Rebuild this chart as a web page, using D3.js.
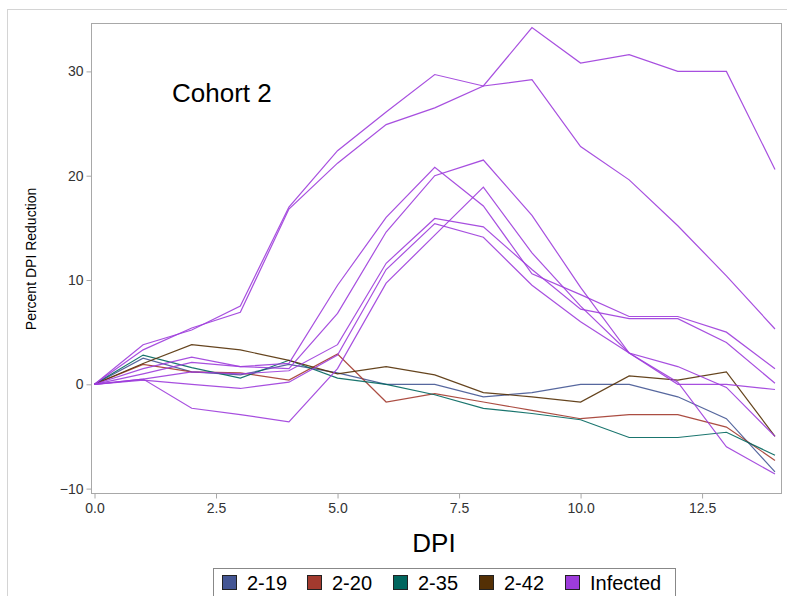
<!DOCTYPE html>
<html>
<head>
<meta charset="utf-8">
<script src="https://cdn.jsdelivr.net/npm/d3@7"></script>
<style>
  body { margin: 0; background: #fff; }
  text { font-family: "Liberation Sans", Arial, sans-serif; }
</style>
</head>
<body>
<svg id="chart"></svg>
<script>
const width  = 787
const height = 596

// DPI (days post infection)
const days = [0, 1, 2, 3, 4, 5, 6, 7, 8, 9, 10, 11, 12, 13, 14]

// control animals
const s219 = [0, 2.5, 1.2, 0.9, 1.9, 1.1, 0.0, 0.0, -1.2, -0.8, 0.0, 0.0, -1.2, -3.3, -8.4]
const s220 = [0, 1.9, 1.2, 1.1, 0.4, 2.9, -1.7, -0.9, -1.7, -2.5, -3.3, -2.9, -2.9, -4.1, -7.3]
const s235 = [0, 2.8, 1.6, 0.6, 2.3, 0.6, 0.0, -1.0, -2.3, -2.8, -3.4, -5.1, -5.1, -4.6, -6.8]
const s242 = [0, 2.0, 3.8, 3.3, 2.3, 1.0, 1.7, 0.9, -0.8, -1.2, -1.7, 0.8, 0.4, 1.2, -5.0]

// infected animals
const inf1 = [0, 3.8, 5.2, 7.5, 17.0, 22.4, 26.1, 29.7, 28.6, 29.2, 22.8, 19.6, 15.2, 10.4, 5.3]
const inf2 = [0, 3.3, 5.4, 6.9, 16.8, 21.2, 24.9, 26.5, 28.6, 34.2, 30.8, 31.6, 30.0, 30.0, 20.6]
const inf3 = [0, 1.5, 2.6, 1.7, 2.0, 9.5, 16.0, 20.8, 17.1, 10.6, 8.6, 6.5, 6.5, 5.0, 1.5]
const inf4 = [0, 1.0, 2.1, 1.7, 1.5, 6.8, 14.6, 20.0, 21.5, 16.2, 9.3, 3.0, 1.7, -0.3, -5.0]
const inf5 = [0, 0.5, -2.3, -2.9, -3.6, 1.5, 9.7, 14.3, 18.9, 12.6, 7.5, 3.0, 0.2, -6.0, -8.6]
const inf6 = [0, 0.5, 1.2, 1.0, 1.3, 3.8, 11.6, 15.9, 15.1, 11.0, 7.2, 6.3, 6.3, 4.0, 0.1]
const inf7 = [0, 0.4, 0.0, -0.4, 0.2, 2.8, 11.0, 15.4, 14.1, 9.5, 6.0, 3.0, 0.0, 0.0, -0.5]

const groups = ["2-19", "2-20", "2-35", "2-42", "Infected"]
const groupColors = ["#445694", "#A23A2E", "#01665E", "#543005", "#9D3CDB"]

const xTicks = [0, 2.5, 5, 7.5, 10, 12.5]
const yTicks = [-10, 0, 10, 20, 30]

const series = [
  { group: "2-19", values: s219 },
  { group: "2-20", values: s220 },
  { group: "2-35", values: s235 },
  { group: "2-42", values: s242 },
  { group: "Infected", values: inf1 },
  { group: "Infected", values: inf2 },
  { group: "Infected", values: inf3 },
  { group: "Infected", values: inf4 },
  { group: "Infected", values: inf5 },
  { group: "Infected", values: inf6 },
  { group: "Infected", values: inf7 }
]

const color = d3.scaleOrdinal().domain(groups).range(groupColors)

// plot frame
const frame = { left: 91, top: 23, right: 781, bottom: 493 }

const x = d3.scaleLinear().domain([0, 14]).range([94.5, 775])
const y = d3.scaleLinear().domain([-10, 30]).range([488.6, 71.4])

let svg = d3.select("#chart")
            .attr("width", width)
            .attr("height", height)

// outer border
svg.append("rect")
   .attr("x", 7.5).attr("y", 9.5)
   .attr("width", 800).attr("height", 600)
   .attr("fill", "none")
   .attr("stroke", "#d4d4d4")

// frame
svg.append("rect")
   .attr("x", frame.left + 0.5).attr("y", frame.top + 0.5)
   .attr("width", frame.right - frame.left)
   .attr("height", frame.bottom - frame.top)
   .attr("fill", "#fff")
   .attr("stroke", "#a8a8a8")

// axes
const xAxis = d3.axisBottom(x)
                .tickValues(xTicks)
                .tickFormat(d3.format(".1f"))
                .tickSizeOuter(0)
                .tickSize(5)
                .tickPadding(5)
const yAxis = d3.axisLeft(y)
                .tickValues(yTicks)
                .tickSizeOuter(0)
                .tickSize(5)
                .tickPadding(3)

const gx = svg.append("g")
   .attr("transform", `translate(0,${frame.bottom + 0.5})`)
   .call(xAxis)
const gy = svg.append("g")
   .attr("transform", `translate(${frame.left + 0.5},0)`)
   .call(yAxis)

;[gx, gy].forEach(g => {
  g.select(".domain").remove()
  g.selectAll(".tick line").attr("stroke", "#a8a8a8")
  g.selectAll(".tick text")
   .attr("fill", "#333")
   .style("font-size", "14px")
})

// lines
const line = d3.line()
               .x((d, i) => x(days[i]))
               .y(d => y(d))

svg.append("g")
   .selectAll("path")
   .data(series)
   .enter().append("path")
   .attr("d", d => line(d.values))
   .attr("fill", "none")
   .attr("stroke", d => color(d.group))
   .attr("stroke-width", 1.2)
   .attr("stroke-opacity", 0.9)

// titles
svg.append("text")
   .attr("x", 172).attr("y", 102)
   .style("font-size", "26px")
   .attr("fill", "#000")
   .text("Cohort 2")

svg.append("text")
   .attr("x", 434).attr("y", 552)
   .attr("text-anchor", "middle")
   .style("font-size", "26px")
   .attr("fill", "#000")
   .text("DPI")

svg.append("text")
   .attr("transform", "translate(36,259) rotate(-90)")
   .attr("text-anchor", "middle")
   .style("font-size", "14px")
   .attr("fill", "#000")
   .text("Percent DPI Reduction")

// legend
const legendX = [222, 307, 393, 479, 565]
let legend = svg.append("g")
legend.append("rect")
      .attr("x", 213.5).attr("y", 568.5)
      .attr("width", 462).attr("height", 40)
      .attr("fill", "#fff")
      .attr("stroke", "#888")

let legendItems = legend.selectAll("g")
      .data(groups)
      .enter()
      .append("g")
      .attr("transform", (d, i) => `translate(${legendX[i]},575)`)

legendItems.append("rect")
      .attr("x", 0.5).attr("y", 0.5)
      .attr("width", 14).attr("height", 14)
      .attr("fill", d => color(d))
      .attr("stroke", "#222")

legendItems.append("text")
      .attr("x", 25).attr("y", 15)
      .style("font-size", "20px")
      .attr("fill", "#000")
      .text(d => d)
</script>
</body>
</html>
